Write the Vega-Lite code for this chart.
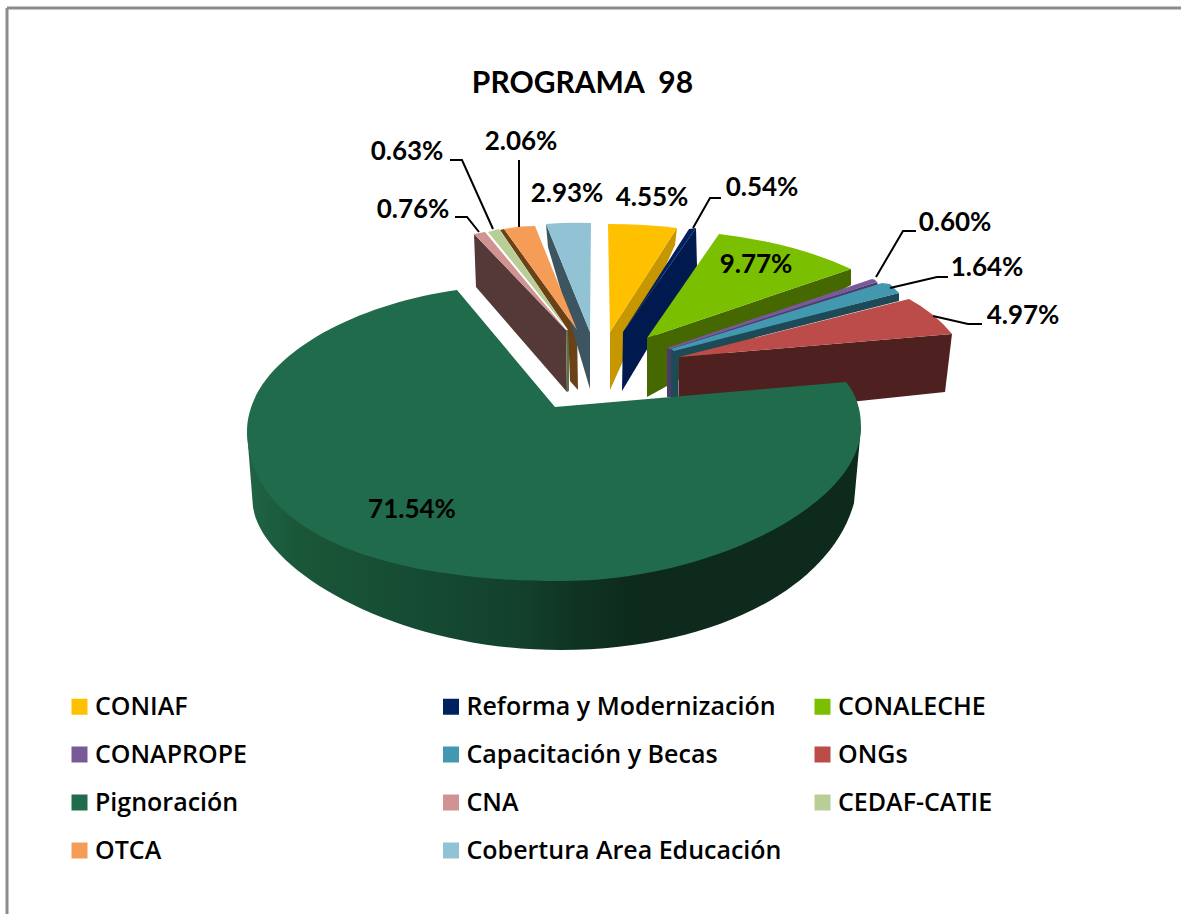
{"$schema":"https://vega.github.io/schema/vega-lite/v6.json","width":1181,"height":914,"autosize":"none","padding":0,"background":"white","config":{"view":{"stroke":null},"font":"Lato"},"title":{"text":"PROGRAMA\u00a0 98","anchor":"middle","frame":"group","font":"Lato","fontSize":30,"fontWeight":700,"color":"#000000","baseline":"middle","dx":-8,"dy":118,"offset":0},"data":{"values":[{"series":"CONIAF","share":0.0455},{"series":"Reforma y Modernización","share":0.0054},{"series":"CONALECHE","share":0.0977},{"series":"CONAPROPE","share":0.006},{"series":"Capacitación y Becas","share":0.0164},{"series":"ONGs","share":0.0497},{"series":"CNA","share":0.0076},{"series":"CEDAF-CATIE","share":0.0063},{"series":"OTCA","share":0.0206},{"series":"Cobertura Area Educación","share":0.0293},{"series":"Pignoración","share":0.7154}]},"encoding":{"x":{"datum":0,"scale":{"domain":[0,1181],"nice":false,"zero":false},"axis":null},"y":{"datum":0,"scale":{"domain":[0,914],"reverse":true,"nice":false,"zero":false},"axis":null}},"layer":[{"data":{"values":[{"edge":"top"}]},"mark":{"type":"rule","stroke":"#8c8c8c","strokeWidth":3},"encoding":{"x":{"datum":7,"axis":null},"x2":{"datum":1181},"y":{"datum":8,"axis":null}}},{"data":{"values":[{"edge":"left"}]},"mark":{"type":"rule","stroke":"#8c8c8c","strokeWidth":3},"encoding":{"x":{"datum":7,"axis":null},"y":{"datum":8,"axis":null},"y2":{"datum":914}}},{"transform":[{"filter":"datum.series !== 'Pignoración'"}],"mark":{"type":"point","filled":true,"opacity":1,"size":4,"strokeWidth":0},"encoding":{"shape":{"field":"series","type":"nominal","legend":null,"scale":{"domain":["CONIAF","Reforma y Modernización","CONALECHE","CONAPROPE","Capacitación y Becas","ONGs","CNA","CEDAF-CATIE","OTCA","Cobertura Area Educación"],"range":["M677,228 L675,245 L610,390 L610,332 Z","M623,332 L696,228 L697,266 L622,391 Z","M647,338 L851,269 L851,285 L647,397 Z","M667,348 L877,282 L878,285 L674,351 L671,397 L667,397 Z","M899,293 L899,301 L679,357 L678,397 L671,397 L671,350 Z","M679,357 L952,334 L945,392 L678,420 Z","M474,234 L476,287 L567,392 L566,330 Z","M566,330 L569,330 L569,391 L567,392 Z","M500,230 L504,229 L577,330 L578,390 L570,381 L568,330 Z","M546,224 L590,332 L590,389 L548,247 Z"]}},"color":{"field":"series","type":"nominal","legend":null,"scale":{"domain":["CONIAF","Reforma y Modernización","CONALECHE","CONAPROPE","Capacitación y Becas","ONGs","CNA","CEDAF-CATIE","OTCA","Cobertura Area Educación"],"range":["#c69700","#001a4f","#456800","#4d3b6a","#1e4956","#4f2020","#553939","#5e7345","#6b4218","#3d5560"]}}}},{"transform":[{"filter":"datum.series === 'Pignoración'"}],"mark":{"type":"point","filled":true,"opacity":1,"size":4,"strokeWidth":0,"fill":{"gradient":"linear","x1":0,"y1":0,"x2":1,"y2":0,"stops":[{"offset":0,"color":"#1f6345"},{"offset":0.09,"color":"#1a5638"},{"offset":0.25,"color":"#164d34"},{"offset":0.44,"color":"#13412c"},{"offset":0.54,"color":"#0f3323"},{"offset":0.64,"color":"#0d2a1c"},{"offset":1,"color":"#0d2a1c"}]}},"encoding":{"shape":{"field":"series","type":"nominal","legend":null,"scale":{"domain":["Pignoración"],"range":["M247,432 L253,507 C262,570 395,650 561,650 C710,650 830,590 854,503 L861,427 Z"]}}}},{"mark":{"type":"point","filled":true,"opacity":1,"size":4,"strokeWidth":0},"encoding":{"shape":{"field":"series","type":"nominal","legend":null,"scale":{"domain":["CONIAF","Reforma y Modernización","CONALECHE","CONAPROPE","Capacitación y Becas","ONGs","Pignoración","CNA","CEDAF-CATIE","OTCA","Cobertura Area Educación"],"range":["M608,224 Q645,224 677,228 L610,332 Z","M623,332 L689,229 L696,228 Z","M647,338 L719,234 Q795,243 851,269 Z","M667,348 L872,279 Q875,279 877,282 L670,349 Z","M671,349 L882,283 L890,284 L899,293 L674,351 Z","M679,357 L909,299 Q935,313 952,334 Z","M555,407 L457,290 C350,305 247,360 247,432 C250,535 385,581 561,581 C710,581 861,505 861,427 Q861,400 846,382 Z","M474,234 L485,232 L566,330 Z","M488,232 L499,229 L568,330 Z","M504,229 Q520,226 535,226 L577,330 Z","M546,224 Q568,222 591,223 L590,332 Z"]}},"fill":{"field":"series","type":"nominal","title":null,"scale":{"domain":["CONIAF","Reforma y Modernización","CONALECHE","CONAPROPE","Capacitación y Becas","ONGs","Pignoración","CNA","CEDAF-CATIE","OTCA","Cobertura Area Educación"],"range":["#ffc000","#002060","#7ac000","#775a97","#4198af","#bb4c4a","#206b4b","#d09392","#b9cd96","#f59d56","#92c3d5"]},"legend":{"orient":"none","legendX":67,"legendY":694,"direction":"horizontal","columns":3,"gridAlign":"all","symbolType":"square","symbolSize":256,"symbolOpacity":1,"symbolStrokeWidth":0,"labelFont":"Open Sans","labelFontSize":25,"labelFontWeight":600,"labelColor":"#000000","labelLimit":400,"labelOffset":3,"rowPadding":22,"columnPadding":28.5}}}},{"transform":[{"filter":"indexof(['CONIAF','Reforma y Modernización','CONAPROPE','Capacitación y Becas','ONGs','CNA','CEDAF-CATIE','OTCA'], datum.series) >= 0"}],"mark":{"type":"point","filled":false,"opacity":1,"size":4,"stroke":"#000000","strokeWidth":2},"encoding":{"shape":{"field":"series","type":"nominal","legend":null,"scale":{"domain":["CONIAF","Reforma y Modernización","CONAPROPE","Capacitación y Becas","ONGs","CNA","CEDAF-CATIE","OTCA"],"range":["M0,0","M721,198 L710,198 L693,228","M916,231 L903,231 L876,277","M948,277 L937,277 L890,288","M982,324 L968,324 L933,316","M455,217 L467,217 L479,232","M450,160 L462,160 L493,229","M519,160 L519,227"]}}}},{"transform":[{"filter":"datum.series === 'Pignoración'"}],"mark":{"type":"text","dx":412,"dy":510,"align":"center","baseline":"middle","font":"Lato","fontSize":26,"fontWeight":700,"color":"#000000"},"encoding":{"text":{"field":"share","type":"quantitative","format":".2%"}}},{"transform":[{"filter":"datum.series === 'CONALECHE'"}],"mark":{"type":"text","dx":756,"dy":265,"align":"center","baseline":"middle","font":"Lato","fontSize":26,"fontWeight":700,"color":"#000000"},"encoding":{"text":{"field":"share","type":"quantitative","format":".2%"}}},{"transform":[{"filter":"datum.series === 'CONIAF'"}],"mark":{"type":"text","dx":652,"dy":198,"align":"center","baseline":"middle","font":"Lato","fontSize":26,"fontWeight":700,"color":"#000000"},"encoding":{"text":{"field":"share","type":"quantitative","format":".2%"}}},{"transform":[{"filter":"datum.series === 'Cobertura Area Educación'"}],"mark":{"type":"text","dx":567,"dy":194,"align":"center","baseline":"middle","font":"Lato","fontSize":26,"fontWeight":700,"color":"#000000"},"encoding":{"text":{"field":"share","type":"quantitative","format":".2%"}}},{"transform":[{"filter":"datum.series === 'OTCA'"}],"mark":{"type":"text","dx":521,"dy":142,"align":"center","baseline":"middle","font":"Lato","fontSize":26,"fontWeight":700,"color":"#000000"},"encoding":{"text":{"field":"share","type":"quantitative","format":".2%"}}},{"transform":[{"filter":"datum.series === 'CEDAF-CATIE'"}],"mark":{"type":"text","dx":407,"dy":152,"align":"center","baseline":"middle","font":"Lato","fontSize":26,"fontWeight":700,"color":"#000000"},"encoding":{"text":{"field":"share","type":"quantitative","format":".2%"}}},{"transform":[{"filter":"datum.series === 'CNA'"}],"mark":{"type":"text","dx":413,"dy":210,"align":"center","baseline":"middle","font":"Lato","fontSize":26,"fontWeight":700,"color":"#000000"},"encoding":{"text":{"field":"share","type":"quantitative","format":".2%"}}},{"transform":[{"filter":"datum.series === 'Reforma y Modernización'"}],"mark":{"type":"text","dx":762,"dy":188,"align":"center","baseline":"middle","font":"Lato","fontSize":26,"fontWeight":700,"color":"#000000"},"encoding":{"text":{"field":"share","type":"quantitative","format":".2%"}}},{"transform":[{"filter":"datum.series === 'CONAPROPE'"}],"mark":{"type":"text","dx":955,"dy":223,"align":"center","baseline":"middle","font":"Lato","fontSize":26,"fontWeight":700,"color":"#000000"},"encoding":{"text":{"field":"share","type":"quantitative","format":".2%"}}},{"transform":[{"filter":"datum.series === 'Capacitación y Becas'"}],"mark":{"type":"text","dx":987,"dy":268,"align":"center","baseline":"middle","font":"Lato","fontSize":26,"fontWeight":700,"color":"#000000"},"encoding":{"text":{"field":"share","type":"quantitative","format":".2%"}}},{"transform":[{"filter":"datum.series === 'ONGs'"}],"mark":{"type":"text","dx":1023,"dy":316,"align":"center","baseline":"middle","font":"Lato","fontSize":26,"fontWeight":700,"color":"#000000"},"encoding":{"text":{"field":"share","type":"quantitative","format":".2%"}}}],"resolve":{"scale":{"shape":"independent"}}}
